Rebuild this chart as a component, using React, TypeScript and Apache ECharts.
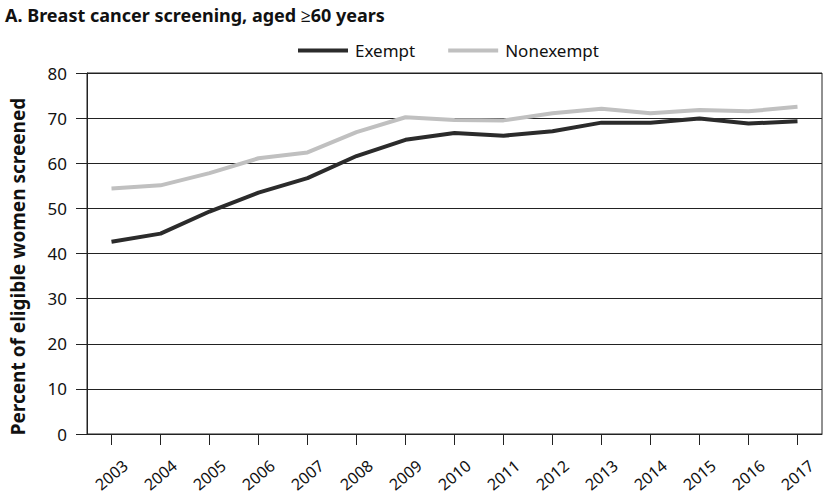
import React, { useEffect, useRef } from "react";
import * as echarts from "echarts";

const years = ["2003","2004","2005","2006","2007","2008","2009","2010","2011","2012","2013","2014","2015","2016","2017"];
const exempt = [42.6, 44.4, 49.3, 53.5, 56.7, 61.6, 65.2, 66.7, 66.1, 67.1, 69.0, 69.0, 69.9, 68.8, 69.3];
const nonexempt = [54.4, 55.1, 57.8, 61.1, 62.4, 66.9, 70.2, 69.6, 69.5, 71.1, 72.1, 71.1, 71.8, 71.5, 72.5];
const title = "A. Breast cancer screening, aged \u226560 years";
const yName = "Percent of eligible women screened";

const FONT = "Noto Sans";

export default function App() {
  const ref = useRef<HTMLDivElement>(null);
  useEffect(() => {
    const chart = echarts.init(ref.current!, null, { renderer: "svg" });
    chart.setOption({
      animation: false,
      textStyle: { fontFamily: FONT },
      title: {
        text: title,
        left: 0,
        top: 1,
        textStyle: { fontFamily: FONT, fontSize: 18, fontWeight: "bold", color: "#111" },
      },
      legend: {
        top: 37,
        left: 293,
        itemWidth: 50,
        itemHeight: 4,
        itemGap: 33,
        icon: "rect",
        textStyle: { fontFamily: FONT, fontSize: 17, color: "#111", padding: [0, 0, 0, 2] },
        data: [
          { name: "Exempt", itemStyle: { color: "#2b2b2b" } },
          { name: "Nonexempt", itemStyle: { color: "#c0c0c0" } },
        ],
      },
      grid: {
        left: 83,
        right: 3,
        top: 73,
        bottom: 63,
        show: true,
        borderColor: "#222",
        borderWidth: 1,
      },
      xAxis: {
        type: "category",
        data: years,
        boundaryGap: true,
        axisLine: { lineStyle: { color: "#222", width: 1 } },
        axisTick: { show: true, alignWithLabel: true, length: 11, lineStyle: { color: "#222" } },
        axisLabel: {
          rotate: 40,
          align: "center",
          verticalAlign: "middle",
          margin: 41,
          fontSize: 16,
          color: "#111",
          fontFamily: FONT,
        },
      },
      yAxis: {
        type: "value",
        min: 0,
        max: 80,
        interval: 10,
        name: yName,
        nameLocation: "middle",
        nameGap: 60,
        nameTextStyle: {
          fontFamily: FONT,
          fontSize: 19,
          fontWeight: "bold",
          color: "#111",
          padding: [0, 26, 0, 0],
        },
        axisLine: { show: true, lineStyle: { color: "#222", width: 1 } },
        axisTick: { show: true, length: 11, lineStyle: { color: "#222" } },
        axisLabel: { margin: 20, fontSize: 17, color: "#111", fontFamily: FONT },
        splitLine: { show: true, lineStyle: { color: "#222", width: 1 } },
      },
      series: [
        {
          name: "Exempt",
          type: "line",
          data: exempt,
          symbol: "none",
          lineStyle: { color: "#2b2b2b", width: 4 },
          itemStyle: { color: "#2b2b2b" },
          z: 3,
        },
        {
          name: "Nonexempt",
          type: "line",
          data: nonexempt,
          symbol: "none",
          lineStyle: { color: "#c0c0c0", width: 4 },
          itemStyle: { color: "#c0c0c0" },
          z: 2,
        },
      ],
    });
    return () => chart.dispose();
  }, []);
  return (
    <div
      ref={ref}
      style={{ position: "absolute", left: 0, top: 0, width: 825, height: 497, background: "#fff" }}
    />
  );
}
